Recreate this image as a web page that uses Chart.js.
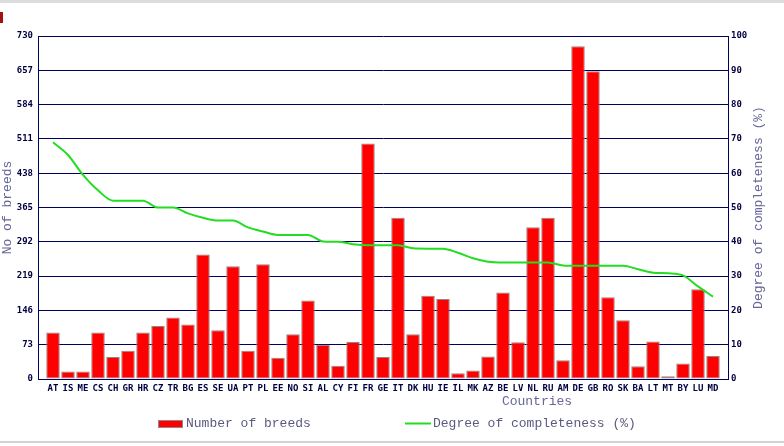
<!DOCTYPE html>
<html>
<head>
<meta charset="utf-8">
<script src="https://cdn.jsdelivr.net/npm/chart.js@4/dist/chart.umd.min.js"></script>
<style>
html,body{margin:0;padding:0;background:#fff;}
#wrap{position:relative;width:784px;height:446px;overflow:hidden;}
#topbar{position:absolute;left:0;top:0;width:784px;height:3px;background:#dcdcdc;}
#mark{position:absolute;left:0;top:12px;width:3px;height:11px;background:#a81010;}
#botline{position:absolute;left:0;top:441px;width:784px;height:2px;background:#d2d2d2;}
canvas{position:absolute;left:0;top:0;}
</style>
</head>
<body>
<div id="wrap">
<canvas id="c" width="784" height="446"></canvas>
<div id="topbar"></div><div id="mark"></div><div id="botline"></div>
</div>
<script>
const countries = ['AT','IS','ME','CS','CH','GR','HR','CZ','TR','BG','ES','SE','UA','PT','PL','EE','NO','SI','AL','CY','FI','FR','GE','IT','DK','HU','IE','IL','MK','AZ','BE','LV','NL','RU','AM','DE','GB','RO','SK','BA','LT','MT','BY','LU','MD'];
const breeds = [99,16,16,99,47,60,99,113,131,116,265,104,240,60,244,45,95,167,73,28,79,501,47,343,95,177,170,12,18,48,184,78,323,343,40,708,655,174,125,27,80,6,33,191,49];
const completeness = [69,65.3,59.5,55,52,52,52,50,50,48.3,47,46.2,46.2,44.2,43,42,42,42,40.1,40,39.3,39,39,39,38.1,38,38,36.8,35.2,34.2,34,34,34,34,33.1,33,33,33,33,32,31,30.8,30.2,27,24];
const leftTicks = [0,73,146,219,292,365,438,511,584,657,730];
const rightTicks = [0,10,20,30,40,50,60,70,80,90,100];
const titleLeft = 'No of breeds';
const titleRight = 'Degree of completeness (%)';
const titleX = 'Countries';

const NAVY = '#000060';
const TICK = '#000040';
const TITLE = '#66669a';
const tickFont = {family:'"DejaVu Sans Mono", monospace', size:9, weight:'bold'};
const titleFont = '13px "Liberation Mono", "Courier New", monospace';

const textPlugin = {
  id:'texts',
  afterDraw(chart){
    const ctx = chart.ctx;
    const ca = chart.chartArea;
    const midY = (ca.top + ca.bottom) / 2;
    ctx.save();
    ctx.font = titleFont;
    ctx.fillStyle = TITLE;
    ctx.textAlign = 'center';
    ctx.textBaseline = 'middle';
    ctx.save(); ctx.translate(8, midY); ctx.rotate(-Math.PI/2); ctx.fillText(titleLeft, 0, 0); ctx.restore();
    ctx.save(); ctx.translate(759, midY); ctx.rotate(-Math.PI/2); ctx.fillText(titleRight, 0, 0); ctx.restore();
    ctx.fillText(titleX, 537, 402);
    // legend
    const ds = chart.data.datasets;
    const ly = 424;
    ctx.fillStyle = ds[0].backgroundColor;
    ctx.fillRect(158, 420, 24, 8);
    ctx.strokeStyle = ds[0].borderColor;
    ctx.lineWidth = 1;
    ctx.strokeRect(158.5, 420.5, 24, 7);
    ctx.strokeStyle = ds[1].borderColor;
    ctx.lineWidth = 2;
    ctx.beginPath(); ctx.moveTo(405, 423.5); ctx.lineTo(431, 423.5); ctx.stroke();
    ctx.fillStyle = '#5a5a80';
    ctx.textAlign = 'left';
    ctx.fillText(ds[0].label, 186, ly);
    ctx.fillText(ds[1].label, 433, ly);
    ctx.restore();
  }
};

new Chart(document.getElementById('c'), {
  type:'bar',
  data:{
    datasets:[
      {
        type:'bar',
        label:'Number of breeds',
        data: breeds.map((v,i)=>({x:i, y:v})),
        backgroundColor:'#ff0000',
        borderColor:'#8a8a8a',
        borderWidth:1,
        borderSkipped:false,
        barPercentage:0.9,
        categoryPercentage:1.0,
        yAxisID:'y',
        order:2
      },
      {
        type:'line',
        label:'Degree of completeness (%)',
        data: completeness.map((v,i)=>({x:i, y:v})),
        borderColor:'#22dd22',
        borderWidth:2,
        pointRadius:0,
        fill:false,
        cubicInterpolationMode:'monotone',
        yAxisID:'y1',
        order:1
      }
    ]
  },
  options:{
    responsive:false,
    animation:false,
    devicePixelRatio:1,
    layout:{padding:{top:36,left:0,right:0,bottom:0}},
    plugins:{legend:{display:false}, tooltip:{enabled:false}},
    scales:{
      x:{
        type:'linear',
        offset:false,
        min:-1, max:45,
        afterBuildTicks:(s)=>{ s.ticks = countries.map((c,i)=>({value:i})); },
        afterFit:(s)=>{ s.height = 67; },
        ticks:{
          autoSkip:false, maxRotation:0, minRotation:0,
          callback:(v)=>countries[v],
          color:TICK, font:tickFont, padding:4
        },
        grid:{display:false, drawTicks:false, offset:false},
        border:{display:true, color:NAVY, width:1}
      },
      y:{
        position:'left',
        min:0, max:730,
        afterBuildTicks:(s)=>{ s.ticks = leftTicks.map(v=>({value:v})); },
        afterFit:(s)=>{ s.width = 38; },
        ticks:{color:TICK, font:tickFont, padding:5},
        grid:{color:NAVY, lineWidth:1, drawTicks:false},
        border:{display:true, color:NAVY, width:1}
      },
      y1:{
        position:'right',
        min:0, max:100,
        afterBuildTicks:(s)=>{ s.ticks = rightTicks.map(v=>({value:v})); },
        afterFit:(s)=>{ s.width = 56; },
        ticks:{color:TICK, font:tickFont, padding:3},
        grid:{drawOnChartArea:false, drawTicks:false},
        border:{display:true, color:NAVY, width:1}
      }
    }
  },
  plugins:[textPlugin]
});
</script>
</body>
</html>
